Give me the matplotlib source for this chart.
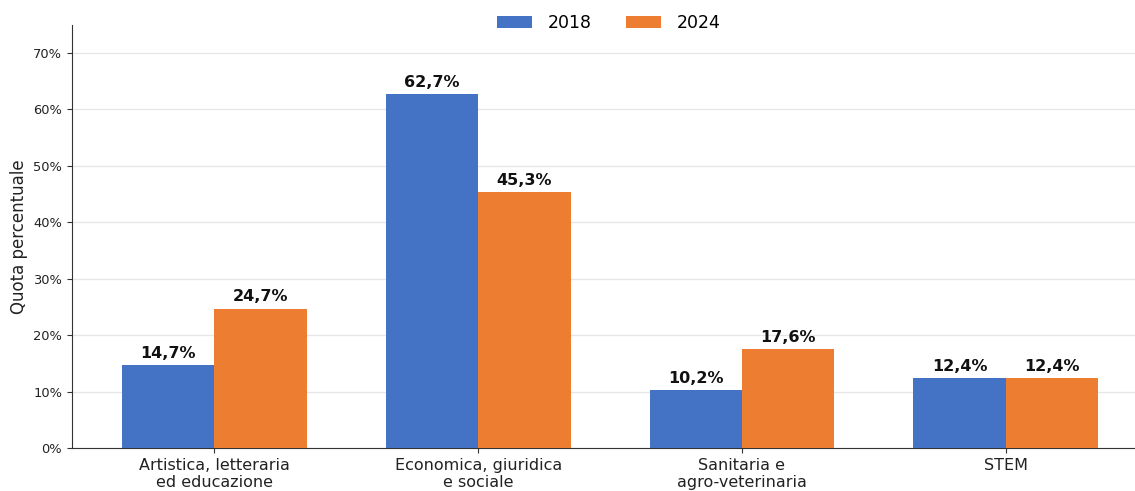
import matplotlib.pyplot as plt
import numpy as np
from matplotlib.ticker import FuncFormatter

# Data
categories = ['Artistica, letteraria\ned educazione', 'Economica, giuridica\ne sociale',
              'Sanitaria e\nagro-veterinaria', 'STEM']
val_2018 = [14.7, 62.7, 10.2, 12.4]
val_2024 = [24.7, 45.3, 17.6, 12.4]

fig = plt.figure(figsize=(11.35, 4.91), dpi=100)
ax = fig.add_axes([0.0634, 0.0876, 0.9366, 0.862])

x = np.arange(len(categories))
w = 0.35
b1 = ax.bar(x - w / 2, val_2018, w, color='#4472C4', label='2018', zorder=3)
b2 = ax.bar(x + w / 2, val_2024, w, color='#ED7D31', label='2024', zorder=3)

# value labels with comma decimal
for bars in (b1, b2):
    ax.bar_label(bars, labels=[f'{v:.1f}%'.replace('.', ',') for v in bars.datavalues],
                 padding=3, fontsize=11.5, fontweight='bold', color='#111111')

ax.set_ylim(0, 75)
ax.set_xlim(-0.54, 3.49)
ax.set_yticks(range(0, 71, 10))
ax.yaxis.set_major_formatter(FuncFormatter(lambda v, p: f'{v:.0f}%'))
ax.tick_params(axis='y', labelsize=9.4, colors='#333333', labelcolor='#222222')
ax.set_xticks(x)
ax.set_xticklabels(categories, fontsize=11.5, color='#222222')
ax.tick_params(axis='x', colors='#333333', labelcolor='#222222')
ax.set_ylabel('Quota percentuale', fontsize=12, color='#222222')

ax.grid(axis='y', color='#e6e6e6', linewidth=0.9, zorder=0)
ax.set_axisbelow(True)
for s in ['top', 'right']:
    ax.spines[s].set_visible(False)
for s in ['left', 'bottom']:
    ax.spines[s].set_color('#333333')

ax.legend(loc='upper center', bbox_to_anchor=(0.505, 1.062), ncol=2, frameon=False,
          fontsize=12.5, handlelength=2.0, handleheight=0.7, handletextpad=0.9,
          columnspacing=2.0)

fig.savefig('out.png', dpi=100)
